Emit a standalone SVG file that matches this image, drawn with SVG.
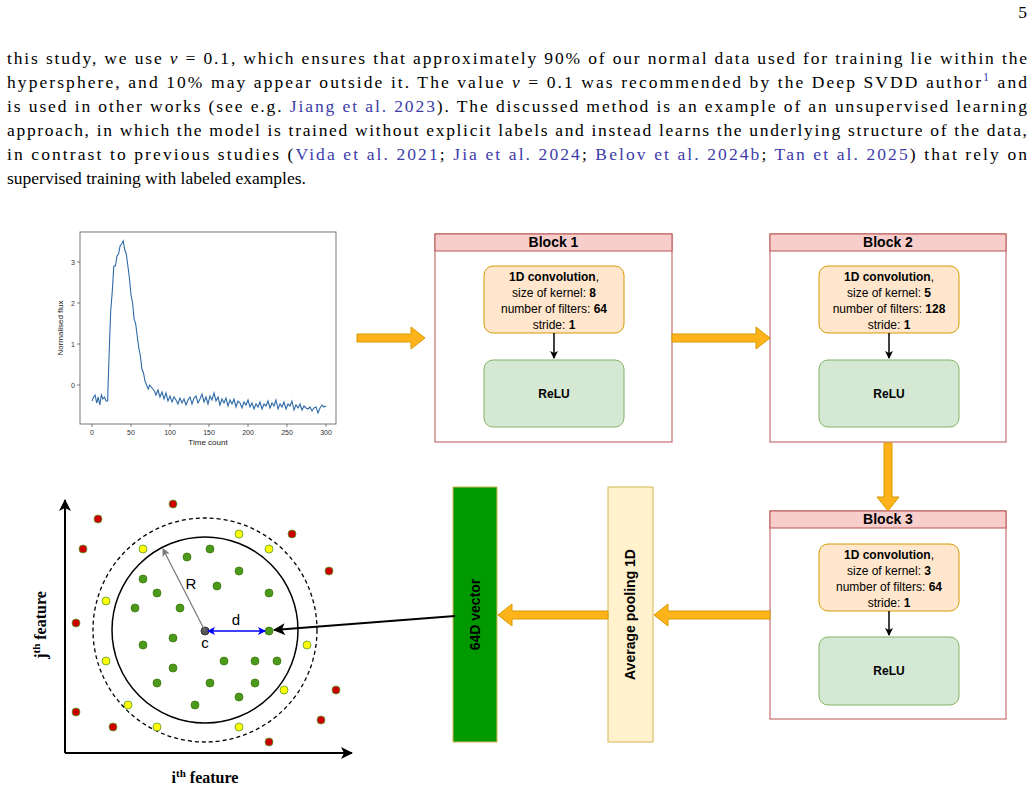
<svg xmlns="http://www.w3.org/2000/svg" width="1035" height="791" viewBox="0 0 1035 791">
<style>
.para{font-family:"Liberation Serif",serif;font-size:17.5px;fill:#000}
.lk{fill:#3c3ca8}
.sans{font-family:"Liberation Sans",Arial,sans-serif}
.blk{fill:#fff;stroke:#b85450;stroke-width:1}
.hdr{fill:#f8cecc;stroke:#b85450;stroke-width:1}
.ttl{font-family:"Liberation Sans",Arial,sans-serif;font-size:14px;font-weight:bold;text-anchor:middle}
.conv{fill:#ffe6cc;stroke:#d79b00;stroke-width:1}
.relu{fill:#d5e8d4;stroke:#82b366;stroke-width:1}
.t12{font-family:"Liberation Sans",Arial,sans-serif;font-size:12px;text-anchor:middle}
.oarr{fill:#ffb31a;stroke:#d79b00;stroke-width:1}
.tick{font-family:"Liberation Sans",Arial,sans-serif;font-size:7px;fill:#333}
.r{fill:#cc0000;stroke:#5a9b2a;stroke-width:0.8}
.y{fill:#ffff00;stroke:#5a9b2a;stroke-width:0.8}
.g{fill:#4d9a1a;stroke:#3b7a10;stroke-width:0.8}
</style>
<defs>
<marker id="ab" markerWidth="8" markerHeight="8" refX="7" refY="4" orient="auto" markerUnits="userSpaceOnUse"><path d="M0,0 L8,4 L0,8 L2,4 z" fill="#000"/></marker>
<marker id="ag" markerWidth="8" markerHeight="8" refX="7" refY="4" orient="auto" markerUnits="userSpaceOnUse"><path d="M0,0 L8,4 L0,8 L2,4 z" fill="#777"/></marker>
<marker id="abl" markerWidth="8" markerHeight="8" refX="7" refY="4" orient="auto-start-reverse" markerUnits="userSpaceOnUse"><path d="M0,0 L8,4 L0,8 L2,4 z" fill="#0000ff"/></marker>
<marker id="abig" markerWidth="12" markerHeight="12" refX="11" refY="6" orient="auto" markerUnits="userSpaceOnUse"><path d="M0,0 L12,6 L0,12 L3,6 z" fill="#000"/></marker>
</defs>
<rect width="1035" height="791" fill="#fff"/>
<text class="para" x="1027" y="18" text-anchor="end">5</text>
<g id="paragraph">
<text class="para" x="7" y="64" textLength="1020" lengthAdjust="spacing">this study, we use <tspan font-style="italic">ν</tspan> = 0.1, which ensures that approximately 90% of our normal data used for training lie within the</text>
<text class="para" x="7" y="88" textLength="1020" lengthAdjust="spacing">hypersphere, and 10% may appear outside it. The value <tspan font-style="italic">ν</tspan> = 0.1 was recommended by the Deep SVDD author<tspan class="lk" font-size="12px" dy="-7">1</tspan><tspan dy="7"> and</tspan></text>
<text class="para" x="7" y="112" textLength="1020" lengthAdjust="spacing">is used in other works (see e.g. <tspan class="lk">Jiang et al. 2023</tspan>). The discussed method is an example of an unsupervised learning</text>
<text class="para" x="7" y="136" textLength="1020" lengthAdjust="spacing">approach, in which the model is trained without explicit labels and instead learns the underlying structure of the data,</text>
<text class="para" x="7" y="160" textLength="1020" lengthAdjust="spacing">in contrast to previous studies (<tspan class="lk">Vida et al. 2021</tspan>; <tspan class="lk">Jia et al. 2024</tspan>; <tspan class="lk">Belov et al. 2024b</tspan>; <tspan class="lk">Tan et al. 2025</tspan>) that rely on</text>
<text class="para" x="7" y="184">supervised training with labeled examples.</text>
</g>
<g id="lightcurve">
<rect x="80" y="232" width="256" height="192" fill="#fff" stroke="#555" stroke-width="0.8"/>
<g stroke="#333" stroke-width="0.6">
<line x1="77" y1="262" x2="80" y2="262"/><line x1="77" y1="303" x2="80" y2="303"/><line x1="77" y1="344" x2="80" y2="344"/><line x1="77" y1="385" x2="80" y2="385"/>
<line x1="92" y1="424" x2="92" y2="427"/><line x1="131" y1="424" x2="131" y2="427"/><line x1="170" y1="424" x2="170" y2="427"/><line x1="209" y1="424" x2="209" y2="427"/><line x1="248" y1="424" x2="248" y2="427"/><line x1="287" y1="424" x2="287" y2="427"/><line x1="326" y1="424" x2="326" y2="427"/>
</g>
<g class="tick" text-anchor="end"><text x="75" y="264.5">3</text><text x="75" y="305.5">2</text><text x="75" y="346.5">1</text><text x="75" y="387.5">0</text></g>
<g class="tick" text-anchor="middle"><text x="92" y="435">0</text><text x="131" y="435">50</text><text x="170" y="435">100</text><text x="209" y="435">150</text><text x="248" y="435">200</text><text x="287" y="435">250</text><text x="326" y="435">300</text></g>
<text class="sans" x="208" y="445" font-size="8" text-anchor="middle" fill="#222">Time count</text>
<text class="sans" font-size="8" text-anchor="middle" fill="#222" transform="translate(63,328) rotate(-90)">Normalised flux</text>
<polyline fill="none" stroke="#2e6aa8" stroke-width="1.1" points="92,401 93.6,397 95.1,395 96.7,403 98.2,397 99.8,405 101.4,395 102.9,399 104.5,397 106,401 107.6,401 109.2,352 110.7,311 112.3,291 113.8,266 115.4,266 117,256 118.5,254 120.1,246 121.6,244 123.2,241 124.8,250 126.3,254 127.9,266 129.4,278 131,295 132.6,303 134.1,319 135.7,324 137.2,336 138.8,348 140.4,356 141.9,369 143.5,373 145,381 146.6,385 148.2,389 149.7,385 151.3,387 152.8,389 154.4,391 156,395 158,390 160,397 162,392 164,399 166,393 168,401 170,396 172,402 174,397 176,400 178,404 180,398 182,403 184,399 186,405 188,400 190,397 192,404 194,398 196,396 198,403 200,399 202,394 204,402 206,397 208,404 210,396 212,400 214,393 216,401 218,397 220,405 222,399 224,403 226,398 228,406 230,400 232,404 234,399 236,407 238,401 240,403 242,408 244,402 246,405 248,400 250,407 252,403 254,409 256,404 258,407 260,402 262,409 264,404 266,406 268,401 270,408 272,403 274,406 276,400 278,409 280,404 282,407 284,402 286,409 288,404 290,406 292,401 294,410 296,405 298,408 300,404 302,410 304,406 306,408 308,409 310,407 312,411 314,408 316,407 318,413 320,408 322,405 324,407 326,406"/>
</g>
<g id="block1">
<rect class="blk" x="435" y="234" width="237" height="208"/>
<rect class="hdr" x="435" y="234" width="237" height="17"/>
<text class="ttl" x="553.5" y="247">Block 1</text>
<rect class="conv" x="484" y="266" width="140" height="67" rx="9"/>
<text class="t12" x="554" y="281"><tspan font-weight="bold">1D convolution</tspan>,</text>
<text class="t12" x="554" y="297">size of kernel: <tspan font-weight="bold">8</tspan></text>
<text class="t12" x="554" y="313">number of filters: <tspan font-weight="bold">64</tspan></text>
<text class="t12" x="554" y="329">stride: <tspan font-weight="bold">1</tspan></text>
<rect class="relu" x="484" y="360" width="140" height="67" rx="9"/>
<text class="t12" x="554" y="398" font-weight="bold">ReLU</text>
</g>
<g id="block2">
<rect class="blk" x="770" y="234" width="236" height="208"/>
<rect class="hdr" x="770" y="234" width="236" height="17"/>
<text class="ttl" x="888" y="247">Block 2</text>
<rect class="conv" x="819" y="266" width="140" height="67" rx="9"/>
<text class="t12" x="889" y="281"><tspan font-weight="bold">1D convolution</tspan>,</text>
<text class="t12" x="889" y="297">size of kernel: <tspan font-weight="bold">5</tspan></text>
<text class="t12" x="889" y="313">number of filters: <tspan font-weight="bold">128</tspan></text>
<text class="t12" x="889" y="329">stride: <tspan font-weight="bold">1</tspan></text>
<rect class="relu" x="819" y="360" width="140" height="67" rx="9"/>
<text class="t12" x="889" y="398" font-weight="bold">ReLU</text>
</g>
<g id="block3">
<rect class="blk" x="770" y="511" width="236" height="208"/>
<rect class="hdr" x="770" y="511" width="236" height="17"/>
<text class="ttl" x="888" y="524">Block 3</text>
<rect class="conv" x="819" y="544" width="140" height="67" rx="9"/>
<text class="t12" x="889" y="559"><tspan font-weight="bold">1D convolution</tspan>,</text>
<text class="t12" x="889" y="575">size of kernel: <tspan font-weight="bold">3</tspan></text>
<text class="t12" x="889" y="591">number of filters: <tspan font-weight="bold">64</tspan></text>
<text class="t12" x="889" y="607">stride: <tspan font-weight="bold">1</tspan></text>
<rect class="relu" x="819" y="637" width="140" height="68" rx="9"/>
<text class="t12" x="889" y="675" font-weight="bold">ReLU</text>
</g>
<g id="pooling">
<rect x="608" y="487" width="45" height="255" fill="#fff2cc" stroke="#d6b656"/>
<text class="sans" font-size="14" font-weight="bold" text-anchor="middle" transform="translate(635,614.5) rotate(-90)">Average pooling 1D</text>
</g>
<g id="vector">
<rect x="453" y="487" width="44" height="255" fill="#009900" stroke="#d6b656"/>
<text class="sans" font-size="14" font-weight="bold" text-anchor="middle" transform="translate(480,614.5) rotate(-90)">64D vector</text>
</g>
<g id="scatter">
<line x1="65" y1="753" x2="65" y2="500" stroke="#000" stroke-width="2" marker-end="url(#abig)"/>
<line x1="65" y1="753" x2="352" y2="753" stroke="#000" stroke-width="2" marker-end="url(#abig)"/>
<text font-family="Liberation Serif,serif" font-size="16" font-weight="bold" text-anchor="middle" x="205" y="783">i<tspan font-size="11" dy="-6">th</tspan><tspan dy="6"> feature</tspan></text>
<text font-family="Liberation Serif,serif" font-size="16" font-weight="bold" text-anchor="middle" transform="translate(46,625) rotate(-90)">j<tspan font-size="11" dy="-6">th</tspan><tspan dy="6"> feature</tspan></text>
<circle cx="205" cy="630" r="112" fill="none" stroke="#000" stroke-width="1.3" stroke-dasharray="4,3"/>
<circle cx="205" cy="630" r="93" fill="none" stroke="#000" stroke-width="1.5"/>
<g>
<circle class="r" cx="173" cy="504" r="4"/><circle class="r" cx="98" cy="519" r="4"/><circle class="r" cx="83" cy="549" r="4"/><circle class="r" cx="292" cy="534" r="4"/><circle class="r" cx="329" cy="571" r="4"/><circle class="r" cx="76" cy="623" r="4"/><circle class="r" cx="336" cy="690" r="4"/><circle class="r" cx="76" cy="712" r="4"/><circle class="r" cx="113" cy="727" r="4"/><circle class="r" cx="321" cy="720" r="4"/><circle class="r" cx="269" cy="742" r="4"/>
<circle class="y" cx="239" cy="534" r="4"/><circle class="y" cx="143" cy="549" r="4"/><circle class="y" cx="269" cy="549" r="4"/><circle class="y" cx="106" cy="601" r="4"/><circle class="y" cx="307" cy="645" r="4"/><circle class="y" cx="106" cy="661" r="4"/><circle class="y" cx="284" cy="690" r="4"/><circle class="y" cx="128" cy="705" r="4"/><circle class="y" cx="157" cy="727" r="4"/><circle class="y" cx="239" cy="727" r="4"/>
<circle class="g" cx="210" cy="549" r="4"/><circle class="g" cx="187" cy="557" r="4"/><circle class="g" cx="239" cy="571" r="4"/><circle class="g" cx="143" cy="579" r="4"/><circle class="g" cx="217" cy="586" r="4"/><circle class="g" cx="157" cy="593" r="4"/><circle class="g" cx="269" cy="593" r="4"/><circle class="g" cx="135" cy="608" r="4"/><circle class="g" cx="180" cy="608" r="4"/><circle class="g" cx="269" cy="631" r="4"/><circle class="g" cx="173" cy="638" r="4"/><circle class="g" cx="143" cy="645" r="4"/><circle class="g" cx="224" cy="661" r="4"/><circle class="g" cx="255" cy="661" r="4"/><circle class="g" cx="277" cy="661" r="4"/><circle class="g" cx="173" cy="668" r="4"/><circle class="g" cx="157" cy="683" r="4"/><circle class="g" cx="210" cy="683" r="4"/><circle class="g" cx="255" cy="683" r="4"/><circle class="g" cx="239" cy="697" r="4"/><circle class="g" cx="195" cy="705" r="4"/>
</g>
<circle cx="205" cy="631" r="4" fill="#555" stroke="#333"/>
<line x1="205" y1="631" x2="163" y2="549" stroke="#777" stroke-width="1.2" marker-end="url(#ag)"/>
<line x1="208" y1="631" x2="265" y2="631" stroke="#0000ff" stroke-width="1.3" marker-start="url(#abl)" marker-end="url(#abl)"/>
<text class="sans" x="191" y="589" font-size="15" text-anchor="middle">R</text>
<text class="sans" x="236" y="625" font-size="15" text-anchor="middle">d</text>
<text class="sans" x="205" y="648" font-size="15" text-anchor="middle">c</text>
</g>
<g id="connectors">
<polygon class="oarr" points="357,334 411,334 411,327 425,338 411,349 411,342 357,342"/>
<polygon class="oarr" points="672,334 756,334 756,327 770,338 756,349 756,342 672,342"/>
<polygon class="oarr" points="884,443 892,443 892,497 899,497 888,511 877,497 884,497"/>
<polygon class="oarr" points="770,611 668,611 668,604 654,615 668,626 668,619 770,619"/>
<polygon class="oarr" points="608,611 512,611 512,604 498,615 512,626 512,619 608,619"/>
<line x1="554" y1="333" x2="554" y2="358" stroke="#000" stroke-width="1.5" marker-end="url(#ab)"/>
<line x1="889" y1="333" x2="889" y2="358" stroke="#000" stroke-width="1.5" marker-end="url(#ab)"/>
<line x1="889" y1="611" x2="889" y2="635" stroke="#000" stroke-width="1.5" marker-end="url(#ab)"/>
<line x1="455" y1="616" x2="274" y2="630" stroke="#000" stroke-width="2" marker-end="url(#abig)"/>
</g>
</svg>
